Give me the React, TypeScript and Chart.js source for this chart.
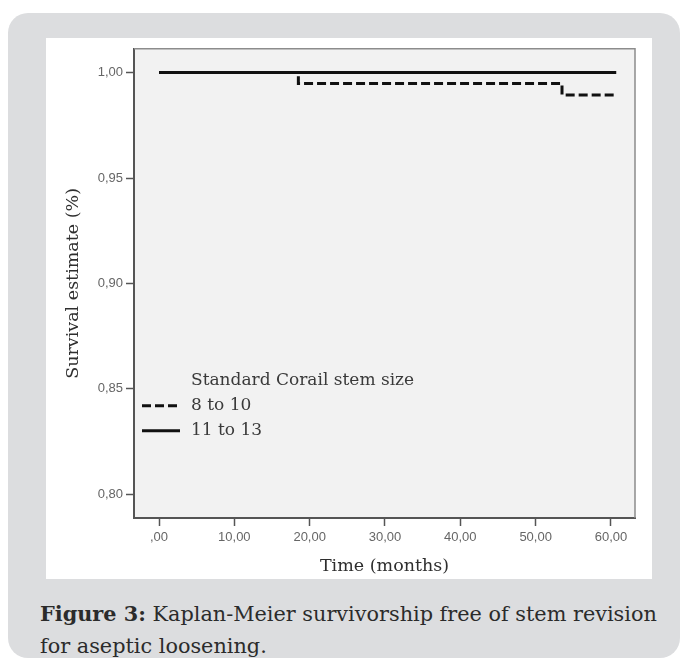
import React, { useEffect, useRef } from 'react';
import { Chart, registerables } from 'chart.js';

Chart.register(...registerables);

const legendTitle = 'Standard Corail stem size';
const groupLabels = ['8 to 10', '11 to 13'];
const smallTimes = [0, 18.5, 53.5, 60.7];
const smallSurvival = [1.0, 0.9948, 0.9894, 0.9894];
const largeTimes = [0, 60.7];
const largeSurvival = [1.0, 1.0];
const xTickValues = [0, 10, 20, 30, 40, 50, 60];
const xTickLabels = [',00', '10,00', '20,00', '30,00', '40,00', '50,00', '60,00'];
const yTickValues = [0.8, 0.85, 0.9, 0.95, 1.0];
const yTickLabels = ['0,80', '0,85', '0,90', '0,95', '1,00'];
const xTitle = 'Time (months)';
const yTitle = 'Survival estimate (%)';
const captionBold = 'Figure 3:';
const captionLine1 = ' Kaplan-Meier survivorship free of stem revision';
const captionLine2 = 'for aseptic loosening.';

const SERIF = '"DejaVu Serif", serif';
const SANS = '"Liberation Sans", Arial, sans-serif';

export default function App() {
  const ref = useRef<HTMLCanvasElement>(null);

  useEffect(() => {
    const boxPlugin = {
      id: 'box',
      beforeDraw(chart: any) {
        const { ctx, chartArea: a } = chart;
        ctx.save();
        ctx.fillStyle = '#f2f2f2';
        ctx.fillRect(a.left, a.top, a.right - a.left, a.bottom - a.top);
        ctx.restore();
      },
      afterDraw(chart: any) {
        const { ctx, chartArea: a } = chart;
        ctx.save();
        ctx.strokeStyle = '#8c8c8c';
        ctx.lineWidth = 1.5;
        ctx.beginPath();
        ctx.moveTo(a.left, a.top);
        ctx.lineTo(a.right, a.top);
        ctx.lineTo(a.right, a.bottom);
        ctx.stroke();
        // legend
        const lx = a.left + 8;
        const tx = a.left + 57;
        const y0 = a.top + 332;
        ctx.fillStyle = '#3a3a3a';
        ctx.font = '17px ' + SERIF;
        ctx.textBaseline = 'middle';
        ctx.textAlign = 'left';
        ctx.fillText(legendTitle, tx, y0);
        const ds = chart.data.datasets;
        for (let i = 0; i < groupLabels.length; i++) {
          const y = y0 + 25 * (i + 1);
          ctx.strokeStyle = '#111';
          ctx.lineWidth = 3;
          ctx.setLineDash(ds[i].borderDash || []);
          ctx.beginPath();
          ctx.moveTo(lx, y);
          ctx.lineTo(lx + 38, y);
          ctx.stroke();
          ctx.setLineDash([]);
          ctx.fillText(groupLabels[i], tx, y);
        }
        ctx.restore();
      },
    };

    const chart = new Chart(ref.current as HTMLCanvasElement, {
      type: 'line',
      data: {
        datasets: [
          {
            label: groupLabels[0],
            data: smallTimes.map((t, i) => ({ x: t, y: smallSurvival[i] })),
            borderColor: '#111',
            borderWidth: 3,
            borderDash: [9, 4],
            stepped: true,
            pointRadius: 0,
            fill: false,
            order: 2,
          },
          {
            label: groupLabels[1],
            data: largeTimes.map((t, i) => ({ x: t, y: largeSurvival[i] })),
            borderColor: '#111',
            borderWidth: 3,
            stepped: true,
            pointRadius: 0,
            fill: false,
            order: 1,
          },
        ],
      },
      options: {
        animation: false,
        responsive: false,
        devicePixelRatio: 1,
        layout: { padding: { top: 8, right: 17, left: 0, bottom: 0 } },
        plugins: { legend: { display: false }, tooltip: { enabled: false } },
        scales: {
          x: {
            type: 'linear',
            min: -3.32,
            max: 63.19,
            afterBuildTicks: (s: any) => {
              s.ticks = xTickValues.map((v) => ({ value: v }));
            },
            afterFit: (s: any) => {
              s.height = 61;
            },
            ticks: {
              callback: (v: any) => xTickLabels[xTickValues.indexOf(v)] ?? '',
              font: { family: SANS, size: 13 },
              color: '#666',
              padding: 4,
              maxRotation: 0,
              autoSkip: false,
            },
            grid: {
              drawOnChartArea: false,
              drawTicks: true,
              tickLength: 8,
              tickColor: '#555',
              tickWidth: 1.5,
            },
            border: { display: true, color: '#555', width: 2 },
            title: {
              display: true,
              text: xTitle,
              font: { family: SERIF, size: 17.5 },
              color: '#2e2e2e',
              padding: { top: 0, bottom: 2 },
            },
          },
          y: {
            type: 'linear',
            min: 0.7887,
            max: 1.0113,
            afterBuildTicks: (s: any) => {
              s.ticks = yTickValues.map((v) => ({ value: v }));
            },
            afterFit: (s: any) => {
              s.width = 88;
            },
            ticks: {
              callback: (v: any) => yTickLabels[yTickValues.indexOf(v)] ?? '',
              font: { family: SANS, size: 13 },
              color: '#666',
              padding: 3,
              autoSkip: false,
            },
            grid: {
              drawOnChartArea: false,
              drawTicks: true,
              tickLength: 8,
              tickColor: '#555',
              tickWidth: 1.5,
            },
            border: { display: true, color: '#555', width: 2 },
            title: {
              display: true,
              text: yTitle,
              font: { family: SERIF, size: 17.5 },
              color: '#2e2e2e',
              padding: { top: 17, bottom: 0 },
            },
          },
        },
      },
      plugins: [boxPlugin],
    } as any);
    return () => chart.destroy();
  }, []);

  return (
    <div
      style={{
        position: 'fixed',
        left: 0,
        top: 0,
        width: 684,
        height: 661,
        background: '#fff',
        overflow: 'hidden',
      }}
    >
      <div
        style={{
          position: 'absolute',
          left: 8,
          top: 13,
          width: 672,
          height: 645,
          background: '#dcdddf',
          borderRadius: 20,
        }}
      />
      <div
        style={{
          position: 'absolute',
          left: 46,
          top: 38,
          width: 606,
          height: 541,
          background: '#fff',
        }}
      >
        <canvas ref={ref} width={606} height={541} style={{ display: 'block', width: 606, height: 541 }} />
      </div>
      <div
        style={{
          position: 'absolute',
          left: 40,
          top: 598,
          fontFamily: SERIF,
          fontSize: 20.8,
          lineHeight: '32px',
          color: '#2b2b2b',
          whiteSpace: 'nowrap',
        }}
      >
        <b>{captionBold}</b>
        {captionLine1}
        <br />
        {captionLine2}
      </div>
    </div>
  );
}
